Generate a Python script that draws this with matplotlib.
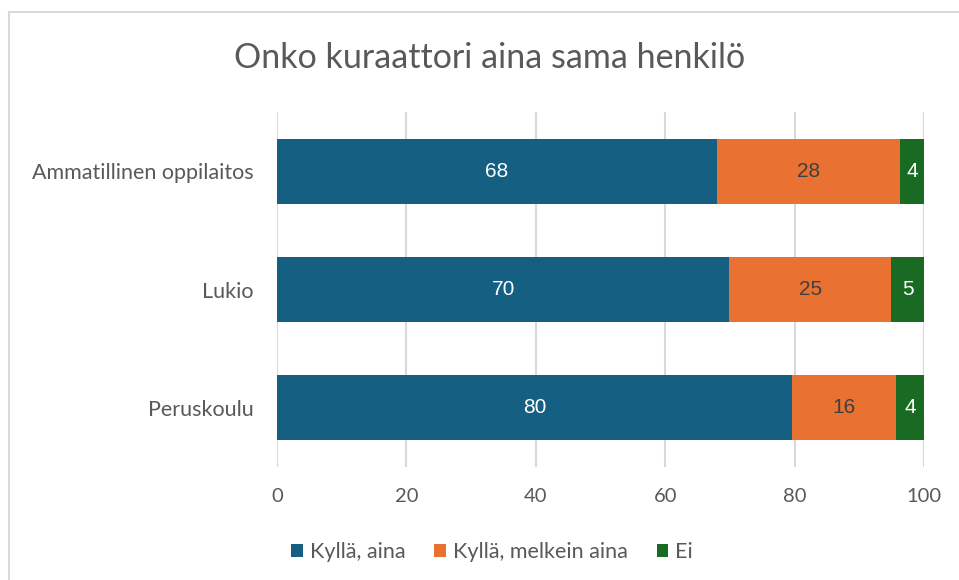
import matplotlib.pyplot as plt
from matplotlib.patches import Rectangle

# kategoriat ylhäältä alas
categories = ["Ammatillinen oppilaitos", "Lukio", "Peruskoulu"]
series_names = ["Kyllä, aina", "Kyllä, melkein aina", "Ei"]
kylla_aina = [68.0, 69.9, 79.6]
kylla_melkein = [28.3, 25.0, 16.1]
ei = [3.7, 5.1, 4.3]
x_ticks = [0, 20, 40, 60, 80, 100]

colors = ["#156082", "#E97132", "#196B24"]
label_colors = ["white", "#404040", "white"]

plt.rcParams['font.family'] = ['Lato', 'DejaVu Sans']


def main():
    fig = plt.figure(figsize=(959 / 100, 580 / 100), dpi=100)
    fig.patches.append(Rectangle((9 / 959, -0.1), 1.2, 1 - 12 / 580 + 0.1,
                                 transform=fig.transFigure, fill=False,
                                 edgecolor="#D9D9D9", lw=1.5))
    ax = fig.add_axes([277 / 959, 1 - 467 / 580, 647 / 959, 355 / 580])

    y = list(range(len(categories)))
    left = [0] * len(categories)
    for vals, name, col, lcol in zip([kylla_aina, kylla_melkein, ei],
                                     series_names, colors, label_colors):
        bars = ax.barh(y, vals, left=left, height=0.55, color=col, label=name,
                       zorder=3)
        ax.bar_label(bars, fmt="%.0f", label_type="center", color=lcol,
                     fontsize=15, family=["Liberation Sans", "DejaVu Sans"])
        left = [l + v for l, v in zip(left, vals)]

    ax.set_ylim(2.5, -0.5)
    ax.set_xlim(0, 100)
    ax.set_yticks(y)
    ax.set_yticklabels(categories, fontsize=15.5, color="#595959")
    ax.set_xticks(x_ticks)
    ax.tick_params(axis="x", labelsize=14.5, labelcolor="#595959", length=0, pad=15)
    ax.tick_params(axis="y", length=0, pad=17)
    ax.grid(axis="x", color="#D9D9D9", lw=1.5, zorder=0)
    for s in ax.spines.values():
        s.set_visible(False)

    fig.suptitle("Onko kuraattori aina sama henkilö", x=490 / 959, y=1 - 58 / 580,
                 va="center", fontsize=24.5, color="#595959")
    fig.legend(loc="center", bbox_to_anchor=(492 / 959, 1 - 552 / 580), ncol=3,
               frameon=False, fontsize=15.5, labelcolor="#595959",
               handlelength=0.55, handleheight=0.55, handletextpad=0.3,
               columnspacing=1.35)

    fig.savefig("out.png", dpi=100)


if __name__ == "__main__":
    main()
